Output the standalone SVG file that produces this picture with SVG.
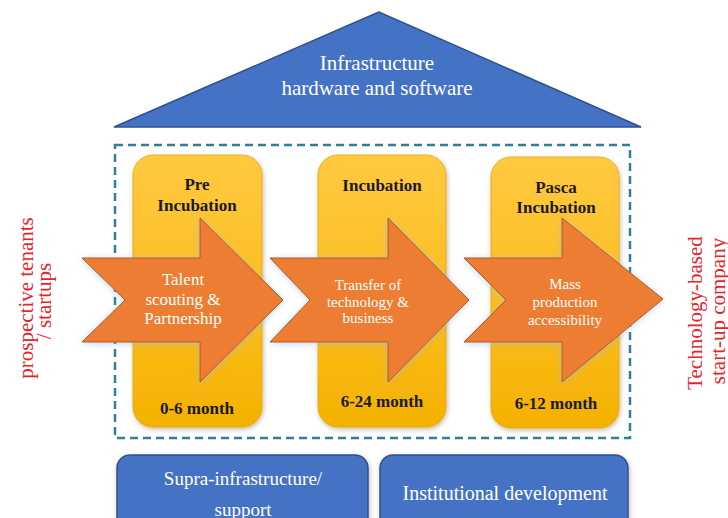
<svg xmlns="http://www.w3.org/2000/svg" width="728" height="518" viewBox="0 0 728 518">
<defs>
<linearGradient id="gold" x1="0" y1="0" x2="0" y2="1">
<stop offset="0" stop-color="#FFC940"/>
<stop offset="0.5" stop-color="#FCBE22"/>
<stop offset="1" stop-color="#F4B200"/>
</linearGradient>
<filter id="sh" x="-20%" y="-20%" width="140%" height="140%">
<feGaussianBlur in="SourceAlpha" stdDeviation="2.5"/>
<feOffset dx="1" dy="2" result="b"/>
<feFlood flood-color="#7a6a40" flood-opacity="0.45"/>
<feComposite in2="b" operator="in"/>
<feMerge><feMergeNode/><feMergeNode in="SourceGraphic"/></feMerge>
</filter>
<filter id="glow" x="-20%" y="-20%" width="140%" height="140%">
<feGaussianBlur in="SourceAlpha" stdDeviation="3"/>
<feOffset dx="0" dy="1" result="b"/>
<feFlood flood-color="#9ab8d8" flood-opacity="0.6"/>
<feComposite in2="b" operator="in"/>
<feMerge><feMergeNode/><feMergeNode in="SourceGraphic"/></feMerge>
</filter>
<style>
.blue{fill:#4472C4;stroke:#2F528F;stroke-width:1.5}
.gold{fill:url(#gold);stroke:#E8A800;stroke-width:0.8}
.arr{fill:#ED7D31;stroke:#B05A1E;stroke-width:1}
.wt{font-family:"Liberation Serif","Times New Roman",serif;fill:#FFFFFF;text-anchor:middle}
.bt{font-family:"Liberation Serif","Times New Roman",serif;fill:#1A1A1A;font-weight:bold;font-size:17px;text-anchor:middle}
.rt{font-family:"Liberation Serif","Times New Roman",serif;fill:#E5252E;font-size:21px;text-anchor:middle}
</style>
</defs>
<rect width="728" height="518" fill="#FFFFFF"/>

<g id="roof">
<polygon class="blue" points="379,12 114,127 641,127" stroke-width="1"/>
<text class="wt" font-size="21" x="377" y="70">Infrastructure</text>
<text class="wt" font-size="21" x="377" y="95">hardware and software</text>
</g>

<g id="boundary">
<rect x="115" y="145" width="515" height="293" fill="none" stroke="#2E7F9A" stroke-width="2.5" stroke-dasharray="8,5"/>
</g>

<g id="stage-pre">
<rect class="gold" x="133" y="155" width="129" height="272" rx="20" filter="url(#sh)"/>
<text class="bt" x="197" y="190">Pre</text>
<text class="bt" x="197" y="211">Incubation</text>
<text class="bt" x="197" y="414">0-6 month</text>
</g>
<g id="stage-incubation">
<rect class="gold" x="318" y="155" width="128" height="272" rx="20" filter="url(#sh)"/>
<text class="bt" x="382" y="191">Incubation</text>
<text class="bt" x="382" y="407">6-24 month</text>
</g>
<g id="stage-pasca">
<rect class="gold" x="491" y="157" width="128" height="271" rx="20" filter="url(#sh)"/>
<text class="bt" x="556" y="193">Pasca</text>
<text class="bt" x="556" y="213">Incubation</text>
<text class="bt" x="556" y="409">6-12 month</text>
</g>

<g id="flow-arrows">
<g id="arrow-talent">
<polygon class="arr" filter="url(#glow)" points="82,258 200,258 200,218 283,300 200,382 200,342 82,342 125,300"/>
<text class="wt" font-size="17" x="183" y="285">Talent</text>
<text class="wt" font-size="17" x="183" y="305">scouting &amp;</text>
<text class="wt" font-size="17" x="183" y="324">Partnership</text>
</g>
<g id="arrow-transfer">
<polygon class="arr" filter="url(#glow)" points="270,258 388,258 388,218 469,300 388,382 388,342 270,342 310,300"/>
<text class="wt" font-size="15" x="368" y="290">Transfer of</text>
<text class="wt" font-size="15" x="368" y="307">technology &amp;</text>
<text class="wt" font-size="15" x="368" y="323">business</text>
</g>
<g id="arrow-mass">
<polygon class="arr" filter="url(#glow)" points="464,258 562,258 562,218 663,299 562,382 562,342 464,342 506,300"/>
<text class="wt" font-size="15" x="565" y="289">Mass</text>
<text class="wt" font-size="15" x="565" y="307">production</text>
<text class="wt" font-size="15" x="565" y="325">accessibility</text>
</g>
</g>

<g id="input-label">
<text class="rt" transform="translate(33,298) rotate(-90)" x="0" y="0">prospective tenants</text>
<text class="rt" transform="translate(51,301) rotate(-90)" x="0" y="0">/ startups</text>
</g>
<g id="output-label">
<text class="rt" transform="translate(702,313) rotate(-90)" x="0" y="0">Technology-based</text>
<text class="rt" transform="translate(725,311) rotate(-90)" x="0" y="0">start-up company</text>
</g>

<g id="support-supra">
<rect class="blue" x="117" y="455" width="251" height="80" rx="13" filter="url(#sh)"/>
<text class="wt" font-size="19" x="243" y="485">Supra-infrastructure/</text>
<text class="wt" font-size="19" x="243" y="516">support</text>
</g>
<g id="support-institutional">
<rect class="blue" x="380" y="455" width="248" height="80" rx="13" filter="url(#sh)"/>
<text class="wt" font-size="20" x="505" y="500">Institutional development</text>
</g>
</svg>
